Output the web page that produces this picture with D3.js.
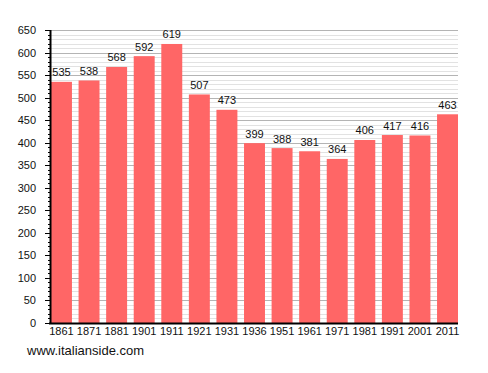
<!DOCTYPE html>
<html>
<head>
<meta charset="utf-8">
<script src="https://cdn.jsdelivr.net/npm/d3@7"></script>
<style>
  body { margin: 0; background: #fff; }
  text { font-family: "Liberation Sans", Arial, sans-serif; }
</style>
</head>
<body>
<div id="chart"></div>
<script>
var years = ["1861", "1871", "1881", "1901", "1911", "1921", "1931", "1936",
             "1951", "1961", "1971", "1981", "1991", "2001", "2011"];
var population = [535, 538, 568, 592, 619, 507, 473, 399, 388, 381, 364, 406, 417, 416, 463];
var majorTicks = d3.range(0, 651, 50);
var minorTicks = d3.range(0, 651, 10);

var W = 488, H = 373,
    plotLeft = 50, plotRight = 458, plotTop = 30, plotBottom = 323;

var svg = d3.select("#chart").append("svg")
    .attr("width", W)
    .attr("height", H);

var y = d3.scaleLinear()
    .domain([0, 650])
    .range([plotBottom, plotTop]);

var x = d3.scaleBand()
    .domain(years)
    .range([51, plotRight])
    .paddingInner(0.24)
    .paddingOuter(0);

// grid
svg.append("g").selectAll("line")
    .data(minorTicks.filter(function (d) { return d % 50 != 0; }))
    .enter().append("line")
    .attr("x1", plotLeft).attr("x2", plotRight)
    .attr("y1", function (d) { return Math.round(y(d)) + 0.5; })
    .attr("y2", function (d) { return Math.round(y(d)) + 0.5; })
    .attr("stroke", "#e2e2e2");

svg.append("g").selectAll("line")
    .data(majorTicks.filter(function (d) { return d > 0; }))
    .enter().append("line")
    .attr("x1", plotLeft).attr("x2", plotRight)
    .attr("y1", function (d) { return Math.round(y(d)) + 0.5; })
    .attr("y2", function (d) { return Math.round(y(d)) + 0.5; })
    .attr("stroke", "#b4b4b4");

// bars
svg.append("g").selectAll("rect")
    .data(population)
    .enter().append("rect")
    .attr("x", function (d, i) { return x(years[i]); })
    .attr("y", function (d) { return y(d); })
    .attr("width", x.bandwidth())
    .attr("height", function (d) { return y(0) - y(d); })
    .attr("fill", "#ff6666");

// value labels
svg.append("g").selectAll("text")
    .data(population)
    .enter().append("text")
    .attr("x", function (d, i) { return x(years[i]) + x.bandwidth() / 2; })
    .attr("y", function (d) { return y(d) - 5.5; })
    .attr("text-anchor", "middle")
    .attr("font-size", "11px")
    .attr("fill", "#111")
    .text(function (d) { return d; });

// y axis
var yAxis = svg.append("g")
    .attr("transform", "translate(" + plotLeft + ",0)");

yAxis.selectAll("line")
    .data(minorTicks)
    .enter().append("line")
    .attr("x1", function (d) { return d % 50 == 0 ? -5 : -2; })
    .attr("x2", 0)
    .attr("y1", function (d) { return Math.round(y(d)) + 0.5; })
    .attr("y2", function (d) { return Math.round(y(d)) + 0.5; })
    .attr("stroke", "#000");

yAxis.selectAll("text")
    .data(majorTicks)
    .enter().append("text")
    .attr("x", -14)
    .attr("y", function (d) { return y(d) + 4; })
    .attr("text-anchor", "end")
    .attr("font-size", "11px")
    .attr("fill", "#111")
    .text(function (d) { return d; });

yAxis.append("line")
    .attr("x1", 0.5).attr("x2", 0.5)
    .attr("y1", plotTop).attr("y2", plotBottom + 1)
    .attr("stroke", "#000")
    .attr("stroke-width", 2);

// x axis
var xAxis = svg.append("g")
    .attr("transform", "translate(0," + plotBottom + ")")
    .call(d3.axisBottom(x).tickSize(0).tickPadding(4));

xAxis.select(".domain").remove();
xAxis.selectAll("text")
    .attr("font-size", "11px")
    .attr("fill", "#111")
    .style("font-family", "'Liberation Sans', Arial, sans-serif");

svg.append("line")
    .attr("x1", plotLeft - 1).attr("x2", plotRight)
    .attr("y1", plotBottom + 0.5).attr("y2", plotBottom + 0.5)
    .attr("stroke", "#000")
    .attr("stroke-width", 2);

svg.append("text")
    .attr("x", 27)
    .attr("y", 355)
    .attr("font-size", "13px")
    .attr("fill", "#111")
    .text("www.italianside.com");
</script>
</body>
</html>
